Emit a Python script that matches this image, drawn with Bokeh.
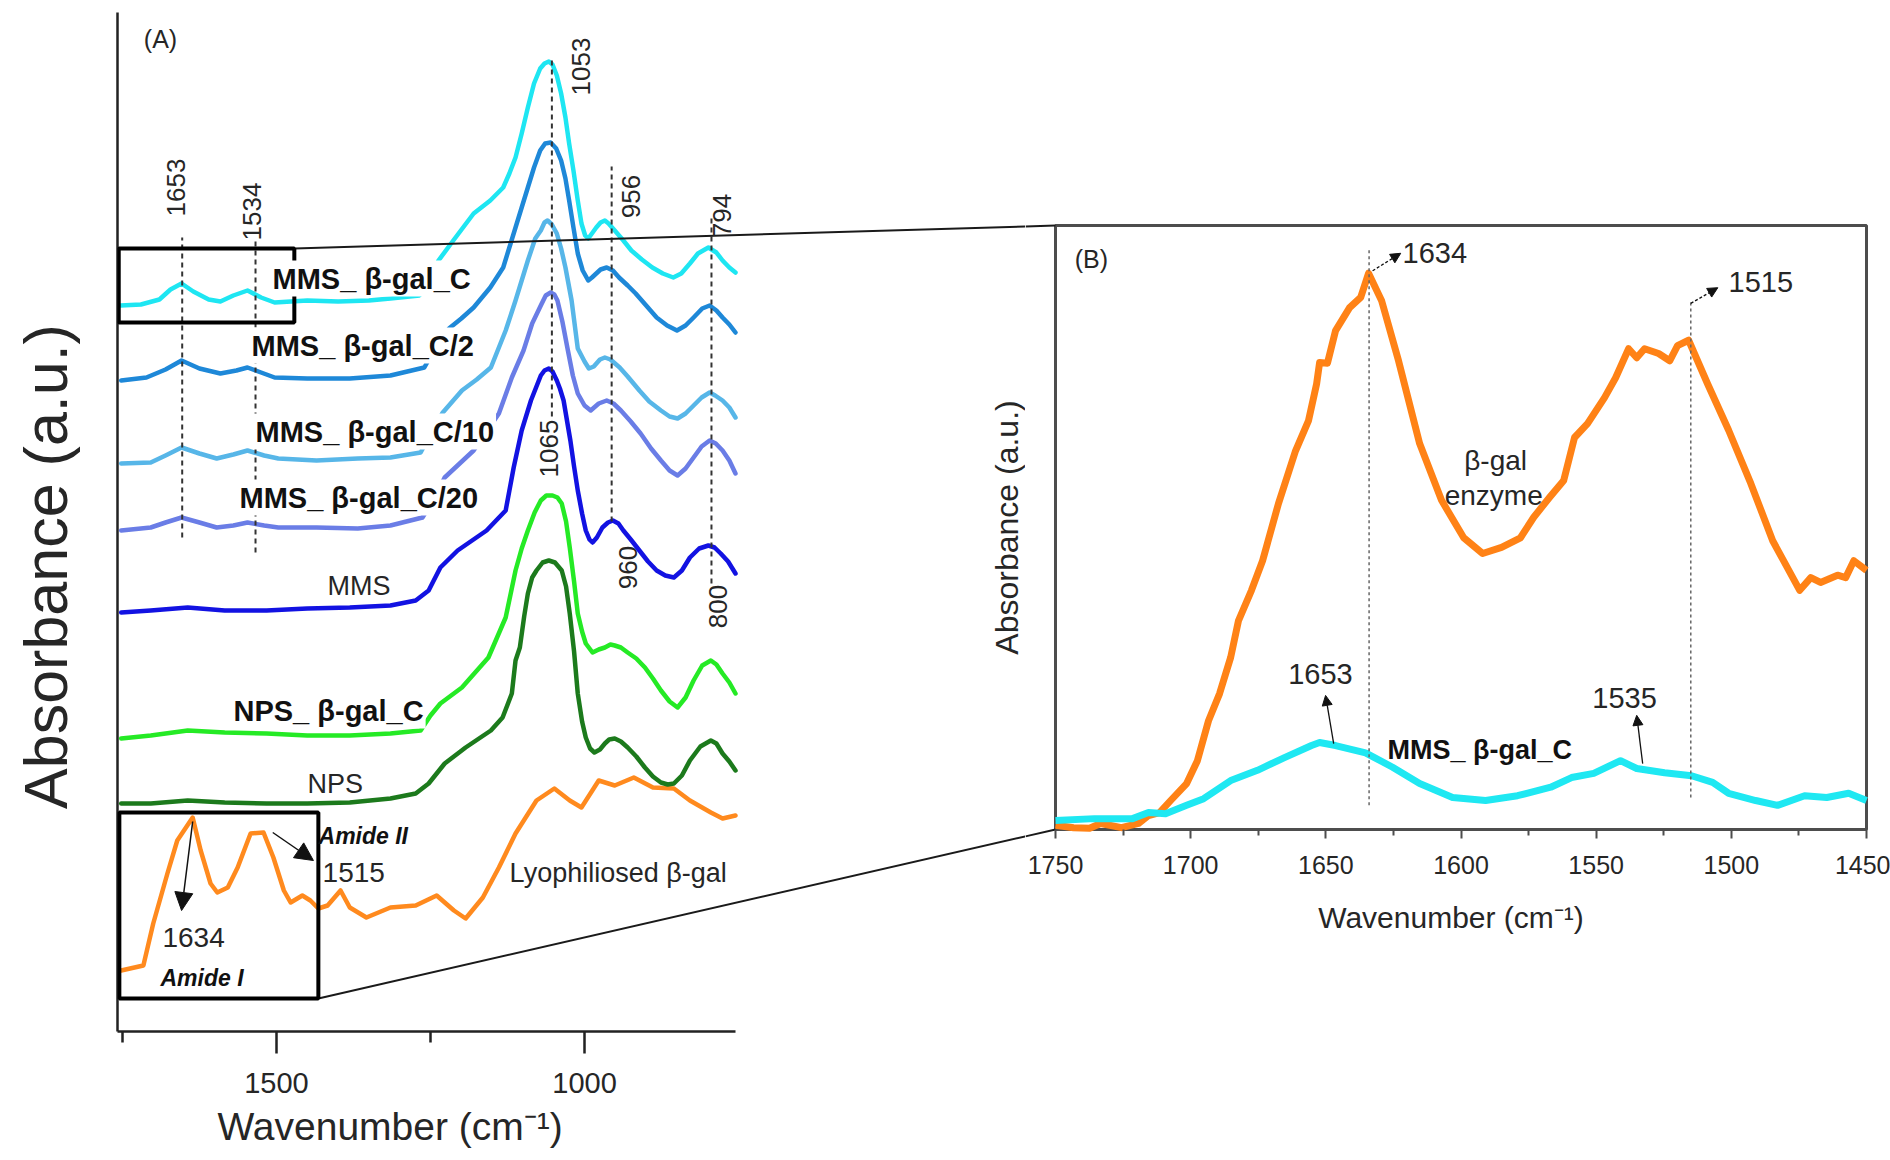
import math
from bokeh.plotting import figure
from bokeh.models import Range1d, FixedTicker, Label, Arrow, NormalHead, BoxAnnotation, Title
from bokeh.layouts import row
from bokeh.embed import file_html
from bokeh.resources import INLINE

# ======================= DATA =======================
# ---- Panel (A): stacked FTIR spectra, wavenumber (cm-1) vs absorbance (a.u., offset)
mms_c_wn = [1753, 1720, 1690, 1672, 1654, 1635, 1610, 1591, 1570, 1547, 1525, 1503, 1450, 1400, 1350, 1315, 1268, 1253, 1237, 1213,
            1180, 1153, 1132, 1122, 1112, 1102, 1092, 1082, 1072, 1065, 1058, 1052, 1045, 1038, 1031, 1025, 1018, 1011, 1005, 999,
            994, 988, 981, 974, 967, 961, 951, 937, 924, 907, 890, 873, 856, 843, 829, 816, 799, 786, 776, 765, 755]
mms_c_abs = [72.6, 72.7, 73.2, 74.2, 74.8, 74.0, 73.2, 73.0, 73.6, 74.1, 73.4, 72.9, 73.1, 73.0, 73.1, 73.3, 73.6, 74.8, 77.1, 79.1,
             81.8, 83.1, 84.4, 85.8, 87.4, 89.8, 92.4, 94.8, 96.3, 96.8, 97.0, 96.7, 95.6, 93.8, 91.4, 88.8, 86.1, 83.1, 80.8, 79.6,
             79.3, 79.8, 80.4, 80.9, 81.1, 80.8, 80.1, 79.1, 78.1, 77.2, 76.4, 75.8, 75.4, 75.8, 76.8, 77.8, 78.4, 77.9, 77.1, 76.4, 75.9]

mms_c2_wn = [1752, 1711, 1680, 1654, 1625, 1591, 1565, 1547, 1525, 1503, 1450, 1381, 1315, 1260, 1240, 1220, 1200, 1180, 1153, 1132,
             1122, 1112, 1102, 1092, 1082, 1072, 1064, 1055, 1046, 1038, 1031, 1025, 1018, 1011, 1003, 994, 988, 974, 964, 954,
             944, 930, 917, 900, 883, 866, 850, 836, 823, 809, 797, 786, 776, 765, 755]
mms_c2_abs = [65.1, 65.4, 66.2, 67.1, 66.3, 65.8, 66.1, 66.4, 65.9, 65.4, 65.3, 65.3, 65.6, 66.4, 68.6, 70.3, 71.3, 72.4, 74.4, 76.4,
              78.4, 80.4, 82.4, 84.4, 86.4, 88.1, 88.8, 88.9, 88.3, 87.1, 85.3, 83.1, 80.4, 77.8, 76.1, 75.1, 75.4, 76.2, 76.4, 76.1,
              75.4, 74.6, 73.8, 72.6, 71.4, 70.6, 70.1, 70.6, 71.4, 72.3, 72.6, 72.1, 71.4, 70.7, 69.9]

mms_c10_wn = [1752, 1704, 1680, 1654, 1625, 1597, 1570, 1547, 1520, 1497, 1435, 1368, 1315, 1266, 1247, 1230, 1199, 1175, 1152, 1128,
              1112, 1092, 1080, 1071, 1065, 1060, 1053, 1045, 1038, 1031, 1021, 1011, 1000, 993, 985, 975, 967, 958, 943, 930,
              911, 895, 876, 862, 849, 836, 823, 810, 797, 788, 776, 765, 755]
mms_c10_abs = [56.8, 56.9, 57.6, 58.4, 57.8, 57.3, 57.7, 58.1, 57.6, 57.3, 57.1, 57.3, 57.4, 57.9, 60.1, 61.9, 64.1, 65.2, 66.4, 70.1,
               73.1, 77.1, 79.3, 80.1, 80.9, 81.1, 80.7, 79.8, 78.3, 76.4, 73.1, 68.3, 67.0, 66.3, 66.5, 67.2, 67.4, 67.2, 66.4, 65.5,
               64.1, 63.0, 62.1, 61.5, 61.3, 61.8, 62.6, 63.4, 63.9, 63.6, 63.1, 62.4, 61.4]

mms_c20_wn = [1752, 1704, 1680, 1654, 1625, 1597, 1570, 1547, 1520, 1497, 1435, 1368, 1315, 1263, 1243, 1227, 1180, 1139, 1118, 1099,
              1085, 1071, 1063, 1055, 1049, 1044, 1036, 1027, 1019, 1011, 1000, 990, 977, 964, 953, 941, 925, 909, 892, 876,
              862, 849, 836, 823, 810, 797, 787, 776, 765, 755]
mms_c20_abs = [50.1, 50.4, 50.9, 51.4, 50.9, 50.4, 50.6, 50.9, 50.6, 50.4, 50.4, 50.3, 50.6, 51.4, 53.4, 55.4, 58.1, 61.8, 65.4, 68.1,
               70.8, 72.6, 73.6, 73.9, 73.7, 73.1, 71.0, 68.1, 65.6, 63.8, 62.6, 62.1, 62.8, 63.1, 62.8, 62.1, 61.0, 59.8, 58.3, 57.1,
               56.1, 55.6, 56.3, 57.4, 58.5, 59.1, 58.8, 58.1, 57.1, 55.8]

mms_wn = [1752, 1704, 1644, 1584, 1516, 1450, 1381, 1315, 1274, 1253, 1234, 1206, 1159, 1128, 1115, 1102, 1087, 1071, 1065, 1058,
          1052, 1045, 1040, 1034, 1023, 1017, 1011, 1004, 998, 992, 987, 980, 971, 962, 954, 945, 937, 925, 911, 897,
          883, 869, 855, 842, 829, 814, 799, 789, 779, 767, 755]
mms_abs = [41.9, 42.1, 42.4, 42.1, 42.1, 42.3, 42.4, 42.6, 43.1, 44.1, 46.4, 48.1, 50.1, 52.1, 56.4, 60.1, 63.1, 65.6, 66.1, 66.3,
           66.0, 65.1, 64.3, 63.1, 59.1, 56.5, 54.1, 51.8, 50.1, 49.2, 48.9, 49.4, 50.4, 50.9, 51.1, 50.8, 50.1, 49.2, 48.1, 47.0,
           46.1, 45.6, 45.4, 46.1, 47.4, 48.3, 48.6, 48.4, 47.8, 47.0, 45.8]

nps_c_wn = [1752, 1704, 1644, 1584, 1516, 1450, 1381, 1315, 1266, 1250, 1234, 1199, 1156, 1128, 1112, 1102, 1092, 1081, 1071, 1062,
            1052, 1044, 1037, 1030, 1024, 1017, 1011, 1004, 998, 987, 977, 967, 958, 951, 941, 930, 916, 902, 889, 876,
            862, 849, 836, 823, 809, 795, 786, 776, 765, 755]
nps_c_abs = [29.3, 29.6, 30.1, 29.9, 29.8, 29.6, 29.6, 29.8, 30.1, 31.6, 32.8, 34.4, 37.4, 41.4, 46.1, 48.3, 50.1, 51.9, 53.1, 53.6,
             53.6, 53.4, 52.8, 51.0, 48.4, 45.0, 41.8, 40.0, 38.8, 37.9, 38.2, 38.4, 38.7, 38.6, 38.4, 37.9, 37.3, 36.4, 35.3, 34.1,
             33.0, 32.4, 33.4, 35.1, 36.6, 37.1, 36.7, 35.8, 34.9, 33.8]

nps_wn = [1752, 1704, 1644, 1584, 1516, 1450, 1381, 1315, 1274, 1253, 1227, 1193, 1152, 1133, 1118, 1112, 1105, 1098, 1092, 1085,
          1078, 1068, 1058, 1048, 1037, 1030, 1024, 1017, 1011, 1004, 998, 991, 984, 975, 967, 960, 951, 941, 930, 916,
          902, 889, 876, 865, 855, 842, 829, 812, 795, 786, 776, 765, 755]
nps_abs = [22.8, 22.8, 23.1, 22.9, 22.8, 22.8, 22.9, 23.3, 23.8, 24.8, 26.8, 28.4, 30.1, 31.4, 33.8, 37.1, 38.4, 41.5, 43.8, 45.4,
           46.1, 46.9, 47.1, 46.9, 46.1, 44.5, 41.8, 38.0, 33.8, 31.0, 29.4, 28.3, 27.9, 28.2, 28.8, 29.2, 29.3, 29.0, 28.4, 27.5,
           26.4, 25.5, 24.9, 24.7, 24.8, 25.6, 27.1, 28.5, 29.1, 28.8, 27.8, 27.0, 26.1]

lyo_wn = [1752, 1716, 1700, 1677, 1661, 1636, 1623, 1607, 1596, 1579, 1563, 1542, 1521, 1505, 1488, 1477, 1458, 1445, 1432, 1417,
          1396, 1381, 1354, 1315, 1274, 1240, 1212, 1193, 1165, 1139, 1112, 1078, 1049, 1024, 1005, 977, 951, 920, 889, 855,
          829, 795, 776, 755]
lyo_abs = [6.1, 6.6, 10.8, 15.8, 19.1, 21.4, 18.1, 14.8, 13.9, 14.4, 16.4, 19.8, 19.9, 17.4, 14.1, 12.9, 13.6, 13.1, 12.3, 12.6,
           14.1, 12.4, 11.4, 12.4, 12.6, 13.6, 12.1, 11.3, 13.4, 16.4, 19.8, 23.1, 24.3, 23.1, 22.4, 25.1, 24.6, 25.4, 24.4, 24.3,
           23.1, 21.9, 21.3, 21.6]

# ---- Panel (B): zoom on the amide region
enz_wn = [1750, 1743.3, 1737.4, 1733.3, 1725.6, 1719.3, 1715.6, 1711.5, 1707.4, 1701.5,
          1697.5, 1693.4, 1689.3, 1685.2, 1682.3, 1677.5, 1673.4, 1667.5, 1661.2, 1656.4,
          1653.4, 1652.3, 1649.4, 1646.4, 1641.2, 1637.1, 1634.2, 1629.4, 1623.1, 1615.3,
          1607.2, 1599, 1592, 1585, 1578, 1573.1, 1567.2, 1562, 1558, 1553.2,
          1546.9, 1542.8, 1538, 1535, 1532.1, 1526.9, 1522.8, 1519.9, 1515.8, 1508.8,
          1501, 1492.8, 1484.7, 1474.7, 1470.6, 1467, 1460.7, 1457.7, 1454.7, 1450]
enz_abs = [0.7, 0.3, 0.2, 1.0, 0.3, 1.0, 2.3, 2.8, 4.8, 7.6,
           11.4, 18.0, 22.5, 28.5, 34.6, 39.6, 44.5, 54.0, 62.7, 67.7,
           73.8, 77.3, 77.2, 82.6, 86.4, 88.1, 92.1, 87.6, 77.6, 63.9,
           54.5, 48.3, 45.7, 46.7, 48.3, 51.7, 55.0, 57.8, 64.9, 67.2,
           71.5, 74.8, 79.6, 78.1, 79.6, 78.8, 77.6, 80.1, 81.0, 73.8,
           66.1, 57.3, 47.8, 39.6, 41.7, 40.9, 42.1, 41.7, 44.5, 42.9]

zc_wn = [1750, 1735.6, 1721.5, 1715.6, 1709.3, 1701.5, 1695.2, 1685.2, 1675.3, 1665.3,
         1655.3, 1652.3, 1646.4, 1635.3, 1625.3, 1615.3, 1603.1, 1590.9, 1579.1, 1566.8,
         1559.1, 1550.9, 1541, 1535, 1524.7, 1514.7, 1506.9, 1501, 1491, 1482.9,
         1472.9, 1464.7, 1456.6, 1450]
zc_abs = [1.5, 1.8, 1.8, 2.8, 2.6, 4.0, 5.1, 8.1, 9.8, 11.9,
          13.9, 14.4, 13.9, 12.7, 10.3, 7.6, 5.3, 4.8, 5.6, 7.0,
          8.6, 9.3, 11.4, 10.1, 9.4, 8.9, 7.8, 6.0, 4.8, 4.0,
          5.6, 5.3, 6.0, 4.8]

# marked band positions and tick values
a_band_wn = [1653, 1534, 1053, 956, 794]
b_band_wn = [1634, 1515]
a_major_ticks = [1500, 1000]
a_minor_ticks = [1750, 1250]
b_major_ticks = [1750, 1700, 1650, 1600, 1550, 1500, 1450]
b_minor_ticks = [1725, 1675, 1625, 1575, 1525, 1475]

# ======================= LAYOUT GEOMETRY (canvas px) =======================
FONT = "Liberation Sans"
TXT = "#262626"
W, H = 1890, 1160
T_W = 100                      # canvas holding the big y title of panel A
SPLIT = 1025                   # boundary between panel A and panel B canvases
A_L, A_T, A_B = 117, 12, 1031  # panel A frame
A_AXIS_END = 735
A_WN0, A_WN1 = 1758, 755
KA = (A_AXIS_END - A_L) / (A_WN0 - A_WN1)
A_XEND = A_WN0 - (SPLIT - A_L) / KA
A_YMAX = 101.9
KYA = (A_B - A_T) / A_YMAX

B_BOX_L, B_BOX_R, B_BOX_T, B_BOX_B = 1055, 1866, 225, 829   # panel B box
B_WN0, B_WN1 = 1750, 1450
KB = (B_BOX_R - B_BOX_L) / (B_WN0 - B_WN1)
KYB = (B_BOX_B - B_BOX_T) / 100.0
B_FR_R, B_FR_T, B_FR_B = 1876, 215, 845                      # panel B frame
B_X0 = B_WN0 + (B_BOX_L - SPLIT) / KB
B_X1 = B_WN1 - (B_FR_R - B_BOX_R) / KB
B_Y0 = -(B_FR_B - B_BOX_B) / KYB
B_Y1 = 100 + (B_BOX_T - B_FR_T) / KYB


def a_px(wn, y):
    return A_L + (A_WN0 - wn) * KA, A_B - y * KYA


def b_px(wn, y):
    return B_BOX_L + (B_WN0 - wn) * KB, B_BOX_B - y * KYB


def label(p, x, y, text, size, style="normal", align="left", angle=0.0, color=TXT, bg=None):
    lab = Label(x=x, y=y, text=text, text_font=FONT, text_font_size=f"{size}px",
                text_font_style=style, text_align=align, text_baseline="middle",
                angle=angle, text_color=color)
    if bg is not None:
        lab.background_fill_color = bg
        lab.background_fill_alpha = 1.0
        lab.padding = 2
    p.add_layout(lab)


def bare(p):
    p.frame_align = False
    p.outline_line_color = None
    p.background_fill_color = "white"
    p.border_fill_color = "white"


# ======================= Y TITLE OF PANEL A =======================
pt = figure(width=T_W, height=H, x_range=Range1d(0, T_W), y_range=Range1d(H, 0),
            output_backend="svg", toolbar_location=None, x_axis_location=None, y_axis_location=None,
            min_border_left=0, min_border_right=0, min_border_top=0, min_border_bottom=0)
bare(pt)
pt.xgrid.visible = False
pt.ygrid.visible = False
label(pt, 45, 566, "Absorbance (a.u.)", 61, align="center", angle=math.pi / 2)

# ======================= PANEL A =======================
pa = figure(width=SPLIT - T_W, height=H, x_range=Range1d(A_WN0, A_XEND), y_range=Range1d(0, A_YMAX),
            output_backend="svg", toolbar_location=None,
            min_border_left=A_L - T_W, min_border_right=0, min_border_top=A_T, min_border_bottom=H - A_B)
bare(pa)
pa.xgrid.visible = False
pa.ygrid.visible = False

xa = pa.xaxis[0]
xa.bounds = (A_WN1, A_WN0)
xa.ticker = FixedTicker(ticks=a_major_ticks, minor_ticks=a_minor_ticks)
xa.axis_line_width = 2.5
xa.axis_line_color = "#222222"
xa.major_tick_out = 22
xa.major_tick_in = 0
xa.minor_tick_out = 11
xa.minor_tick_in = 0
xa.major_tick_line_width = 2.5
xa.minor_tick_line_width = 2.5
xa.major_tick_line_color = "#222222"
xa.minor_tick_line_color = "#222222"
xa.major_label_text_font = FONT
xa.major_label_text_font_size = "29px"
xa.major_label_text_color = TXT
xa.major_label_standoff = 19

ya = pa.yaxis[0]
ya.ticker = FixedTicker(ticks=[])
ya.axis_line_width = 2.5
ya.axis_line_color = "#222222"
ya.major_tick_out = 0
ya.major_tick_in = 0
ya.minor_tick_out = 0
ya.minor_tick_in = 0
ya.major_label_standoff = 0

pa.add_layout(Title(text="Wavenumber (cm⁻¹)", align="left", offset=100, standoff=15,
                    text_font=FONT, text_font_size="39px", text_font_style="normal",
                    text_color=TXT), "below")

a_series = [
    (lyo_wn, lyo_abs, "#ff8a1e"),
    (nps_wn, nps_abs, "#1c7a1c"),
    (nps_c_wn, nps_c_abs, "#25ea25"),
    (mms_wn, mms_abs, "#1212e2"),
    (mms_c20_wn, mms_c20_abs, "#6a7de6"),
    (mms_c10_wn, mms_c10_abs, "#57b6e8"),
    (mms_c2_wn, mms_c2_abs, "#1e88d8"),
    (mms_c_wn, mms_c_abs, "#1ee6f2"),
]
for wn, ab, col in a_series:
    pa.line(wn, ab, line_color=col, line_width=4.5, line_join="round", line_cap="round")

# dashed band markers
a_band_top = [79.4, 79.1, 97.4, 86.5, 81.4]
a_band_bot = [49.4, 47.9, 61.5, 51.0, 44.8]
pa.segment(x0=a_band_wn, y0=a_band_bot, x1=a_band_wn, y1=a_band_top,
           line_color="#333333", line_width=2, line_dash="5 4")

# zoom boxes
box1 = dict(left=1756, right=1471, bottom=70.9, top=78.3)
box2 = dict(left=1755, right=1432, bottom=3.3, top=21.9)
for bx in (box1, box2):
    pa.add_layout(BoxAnnotation(fill_color=None, fill_alpha=0, line_color="black", line_alpha=1.0,
                                line_width=4, **bx))

# connection lines from the boxes to panel B (split at the canvas boundary)
conn = [((box1["right"], box1["top"]), (B_WN0, 100.0)),
        ((box2["right"], box2["bottom"]), (B_WN0, 0.0))]
a_seg = dict(x0=[], y0=[], x1=[], y1=[])
b_seg = dict(x0=[], y0=[], x1=[], y1=[])
for (aw, ay), (bw, by) in conn:
    x0, y0 = a_px(aw, ay)
    x1, y1 = b_px(bw, by)
    yc = y0 + (SPLIT - x0) / (x1 - x0) * (y1 - y0)
    a_seg["x0"].append(aw); a_seg["y0"].append(ay)
    a_seg["x1"].append(A_XEND); a_seg["y1"].append((A_B - yc) / KYA)
    b_seg["x0"].append(B_X0); b_seg["y0"].append((B_BOX_B - yc) / KYB)
    b_seg["x1"].append(bw); b_seg["y1"].append(by)
pa.segment(line_color="#1a1a1a", line_width=2, **a_seg)

# curve labels
label(pa, 1509.6, 75.3, "MMS_ β-gal_C", 29, "bold", color="#111111", bg="white")
label(pa, 1543.7, 68.6, "MMS_ β-gal_C/2", 29, "bold", color="#111111", bg="white")
label(pa, 1537.2, 60.0, "MMS_ β-gal_C/10", 29, "bold", color="#111111", bg="white")
label(pa, 1563.2, 53.4, "MMS_ β-gal_C/20", 29, "bold", color="#111111", bg="white")
label(pa, 1417.1, 44.6, "MMS", 27)
label(pa, 1573.0, 32.1, "NPS_ β-gal_C", 29, "bold", color="#111111", bg="white")
label(pa, 1449.6, 24.8, "NPS", 27)
label(pa, 1121.6, 15.9, "Lyophiliosed β-gal", 27)
label(pa, 1425.2, 15.9, "1515", 28)
label(pa, 1685.0, 9.4, "1634", 28)
label(pa, 1431.7, 19.6, "Amide II", 23, "bold italic", color="#111111")
label(pa, 1688.2, 5.4, "Amide I", 23, "bold italic", color="#111111")
label(pa, 1688.2, 99.3, "(A)", 25, align="center")

# rotated band labels
for txt, x, y in [("1653", 1663.8, 84.4), ("1534", 1540.5, 82.0), ("1053", 1006.4, 96.5),
                  ("1065", 1058.3, 58.3), ("956", 925.2, 83.5), ("960", 930.1, 46.4),
                  ("794", 777.5, 81.6), ("800", 784.0, 42.5)]:
    label(pa, x, y, txt, 26, align="center", angle=math.pi / 2)

# arrows in panel A
for xs, ys, xe, ye in [(1636, 21.0, 1654, 12.1), (1506, 19.9, 1440, 17.1)]:
    pa.add_layout(Arrow(end=NormalHead(size=18, fill_color="#111111", line_color="#111111"),
                        x_start=xs, y_start=ys, x_end=xe, y_end=ye,
                        line_color="#111111", line_width=1.5))

# y title of panel B (sits left of the B box, inside this canvas)
label(pa, A_WN0 - (1006 - A_L) / KA, (A_B - 527) / KYA, "Absorbance (a.u.)", 32,
      align="center", angle=math.pi / 2)

# ======================= PANEL B =======================
pb = figure(width=W - SPLIT, height=H, x_range=Range1d(B_X0, B_X1), y_range=Range1d(B_Y0, B_Y1),
            output_backend="svg", toolbar_location=None, y_axis_location=None,
            min_border_left=0, min_border_right=W - B_FR_R, min_border_top=B_FR_T,
            min_border_bottom=H - B_FR_B)
bare(pb)
pb.xgrid.visible = False
pb.ygrid.visible = False

xb = pb.xaxis[0]
xb.ticker = FixedTicker(ticks=b_major_ticks, minor_ticks=b_minor_ticks)
xb.axis_line_color = None
tick_gap = B_FR_B - B_BOX_B
xb.major_tick_in = tick_gap
xb.major_tick_out = 9 - tick_gap
xb.minor_tick_in = tick_gap
xb.minor_tick_out = 6 - tick_gap
xb.major_tick_line_width = 2
xb.minor_tick_line_width = 2
xb.major_tick_line_color = "#4d4d4d"
xb.minor_tick_line_color = "#4d4d4d"
xb.major_label_text_font = FONT
xb.major_label_text_font_size = "25px"
xb.major_label_text_color = TXT
xb.major_label_standoff = 17
xb.axis_label = "Wavenumber (cm⁻¹)"
xb.axis_label_text_font = FONT
xb.axis_label_text_font_size = "30px"
xb.axis_label_text_font_style = "normal"
xb.axis_label_text_color = TXT
xb.axis_label_standoff = 24

# box of panel B
pb.quad(left=[B_WN0], right=[B_WN1], bottom=[0], top=[100], fill_color=None,
        line_color="#4d4d4d", line_width=3)

pb.line(enz_wn, enz_abs, line_color="#ff8216", line_width=7, line_join="round")
pb.line(zc_wn, zc_abs, line_color="#1fe8f2", line_width=7, line_join="round")

pb.segment(x0=b_band_wn, y0=[4.0, 5.3], x1=b_band_wn, y1=[95.9, 87.6],
           line_color="#666666", line_width=1.5, line_dash="3 3")

pb.segment(line_color="#1a1a1a", line_width=2, **b_seg)

for xs, ys, xe, ye, dash in [(1632.7, 92.5, 1622.3, 95.4, "3 2"), (1515.0, 87.1, 1505.0, 89.7, "3 2"),
                             (1647.1, 14.2, 1650.1, 22.2, "solid"), (1532.8, 10.9, 1535.0, 18.9, "solid")]:
    pb.add_layout(Arrow(end=NormalHead(size=10, fill_color="#111111", line_color="#111111"),
                        x_start=xs, y_start=ys, x_end=xe, y_end=ye,
                        line_color="#111111", line_width=1.3, line_dash=dash))

label(pb, 1736.7, 94.5, "(B)", 25, align="center")
label(pb, 1621.6, 95.4, "1634", 29)
label(pb, 1489.1, 90.6, "1515", 29, align="center")
label(pb, 1587.2, 61.1, "β-gal", 28, align="center")
label(pb, 1587.9, 55.3, "enzyme", 28, align="center")
label(pb, 1652.0, 25.8, "1653", 29, align="center")
label(pb, 1539.5, 21.7, "1535", 29, align="center")
label(pb, 1627.2, 13.1, "MMS_ β-gal_C", 27, "bold", color="#111111")

layout = row(pt, pa, pb)
html = file_html(layout, INLINE, title="FTIR spectra")
open("out.html", "w").write(html)
